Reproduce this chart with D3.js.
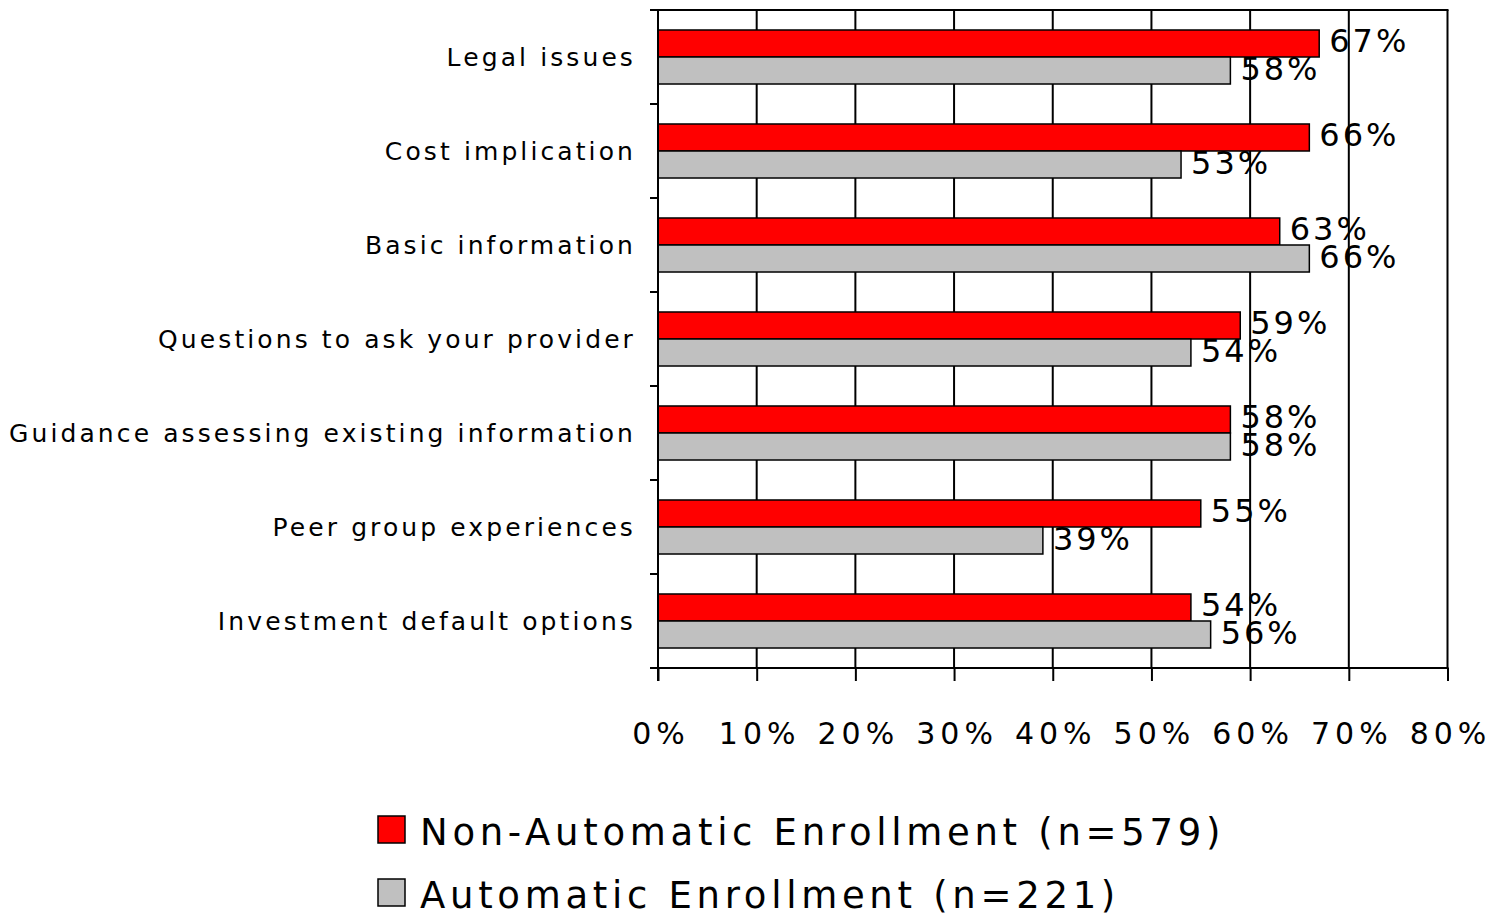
<!DOCTYPE html>
<html>
<head>
<meta charset="utf-8">
<script src="https://cdn.jsdelivr.net/npm/d3@7"></script>
<style>
  html, body { margin: 0; padding: 0; background: #fff; }
  svg { display: block; font-family: "DejaVu Sans", Verdana, sans-serif; }
</style>
</head>
<body>
<svg id="chart" width="1500" height="916"></svg>
<script>
// Survey topics (top to bottom) and share of respondents per group
const categories = [
  "Legal issues",
  "Cost implication",
  "Basic information",
  "Questions to ask your provider",
  "Guidance assessing existing information",
  "Peer group experiences",
  "Investment default options"
];
const seriesNames = ["Non-Automatic Enrollment (n=579)", "Automatic Enrollment (n=221)"];
const nonAutomatic = [0.67, 0.66, 0.63, 0.59, 0.58, 0.55, 0.54];
const automatic    = [0.58, 0.53, 0.66, 0.54, 0.58, 0.39, 0.56];
const xTicks = [0, 0.1, 0.2, 0.3, 0.4, 0.5, 0.6, 0.7, 0.8];
const colors = ["#ff0000", "#c0c0c0"];

const FONT = "'DejaVu Sans', Verdana, sans-serif";
const svg = d3.select("#chart");
const plotLeft = 658, plotRight = 1447.5, plotTop = 10, plotBottom = 668;

const x = d3.scaleLinear().domain([0, 0.8]).range([plotLeft, plotRight]);
const y = d3.scaleBand().domain(categories).range([plotTop, plotBottom]).padding(0);
const ySub = d3.scaleBand().domain(seriesNames).range([0, y.bandwidth()])
  .paddingInner(0).paddingOuter(0.74);

const pct = d3.format(".0%");

// vertical gridlines (including the right border at 80%)
svg.append("g").selectAll("line").data(xTicks.slice(1)).join("line")
  .attr("x1", d => x(d)).attr("x2", d => x(d))
  .attr("y1", plotTop).attr("y2", plotBottom)
  .attr("stroke", "#000").attr("stroke-width", 2);

// top border
svg.append("line")
  .attr("x1", plotLeft - 8).attr("x2", plotRight + 1)
  .attr("y1", plotTop).attr("y2", plotTop)
  .attr("stroke", "#000").attr("stroke-width", 2);

// bars
const rows = categories.map((c, i) => ({ c, vals: [nonAutomatic[i], automatic[i]] }));
const groups = svg.append("g").selectAll("g").data(rows).join("g")
  .attr("transform", d => `translate(0,${y(d.c)})`);

groups.selectAll("rect").data(d => d.vals.map((v, k) => ({ v, k }))).join("rect")
  .attr("x", x(0))
  .attr("y", d => ySub(seriesNames[d.k]))
  .attr("width", d => x(d.v) - x(0))
  .attr("height", ySub.bandwidth())
  .attr("fill", d => colors[d.k])
  .attr("stroke", "#000").attr("stroke-width", 1.5);

// value labels, vertically centred on each bar
groups.selectAll("text.val").data(d => d.vals.map((v, k) => ({ v, k }))).join("text")
  .attr("class", "val")
  .attr("x", d => x(d.v) + 10)
  .attr("y", d => ySub(seriesNames[d.k]) + ySub.bandwidth() / 2 + 9)
  .attr("font-size", 32).attr("letter-spacing", 3)
  .attr("font-family", FONT)
  .attr("fill", "#000")
  .text(d => pct(d.v));

// y axis (category labels, tick marks at band edges)
const yAxis = svg.append("g").attr("transform", `translate(${plotLeft},0)`)
  .call(d3.axisLeft(y).tickSize(0).tickPadding(22));
yAxis.select(".domain").remove();
yAxis.selectAll("text")
  .attr("font-size", 25).attr("letter-spacing", 3.1)
  .attr("font-family", FONT)
  .attr("dy", "0.37em")
  .attr("fill", "#000");

const edges = categories.map(c => y(c)).concat([plotBottom]);
svg.append("g").selectAll("line").data(edges).join("line")
  .attr("x1", plotLeft - 8).attr("x2", plotLeft)
  .attr("y1", d => d).attr("y2", d => d)
  .attr("stroke", "#000").attr("stroke-width", 2);
svg.append("line")
  .attr("x1", plotLeft).attr("x2", plotLeft).attr("y1", plotTop).attr("y2", plotBottom + 13)
  .attr("stroke", "#000").attr("stroke-width", 2);

// x axis
const xAxis = svg.append("g").attr("transform", `translate(0,${plotBottom})`)
  .call(d3.axisBottom(x).tickValues(xTicks).tickFormat(pct).tickSize(13).tickPadding(42).tickSizeOuter(0));
xAxis.select(".domain")
  .attr("d", `M${plotLeft - 8},0H${plotRight + 1}`)
  .attr("stroke", "#000").attr("stroke-width", 2);
xAxis.selectAll(".tick line").attr("stroke", "#000").attr("stroke-width", 2);
xAxis.selectAll("text")
  .attr("font-size", 30).attr("letter-spacing", 5)
  .attr("font-family", FONT)
  .attr("dx", 2.5)
  .attr("fill", "#000");

// legend
const legend = svg.append("g").attr("transform", "translate(378,816)");
const items = legend.selectAll("g").data(seriesNames).join("g")
  .attr("transform", (d, i) => `translate(0,${i * 63})`);
items.append("rect")
  .attr("width", 27).attr("height", 27)
  .attr("fill", (d, i) => colors[i])
  .attr("stroke", "#000").attr("stroke-width", 1.5);
items.append("text")
  .attr("x", 42).attr("y", 29)
  .attr("font-size", 37).attr("letter-spacing", 4.7)
  .attr("font-family", FONT)
  .attr("fill", "#000")
  .text(d => d);
</script>
</body>
</html>
